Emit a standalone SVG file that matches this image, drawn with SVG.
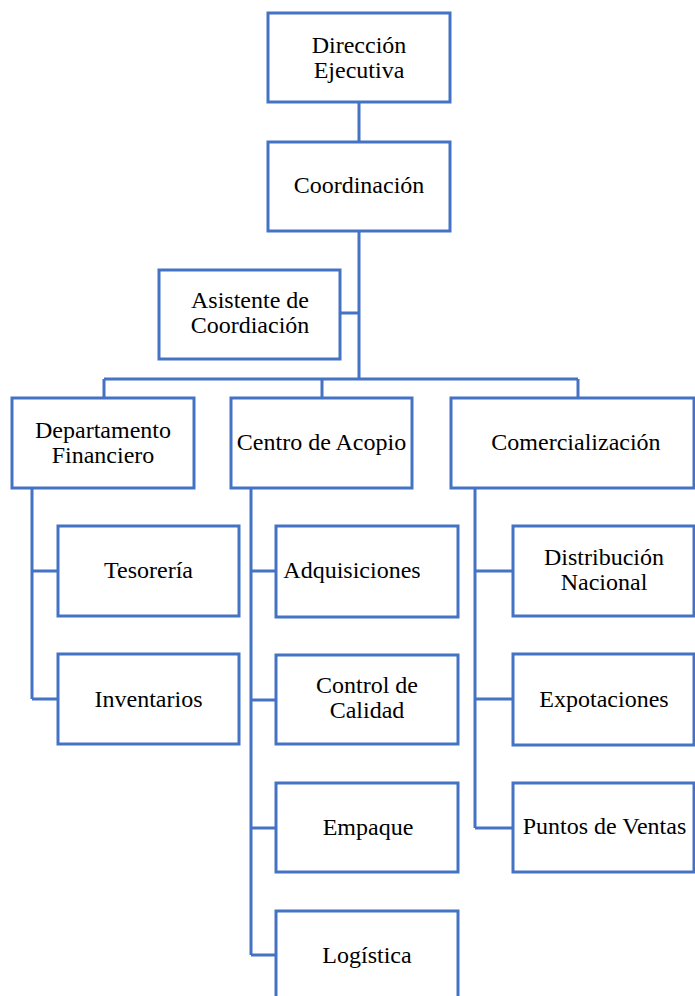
<svg xmlns="http://www.w3.org/2000/svg" width="695" height="996" viewBox="0 0 695 996">
<style>
.box{fill:#fff;stroke:#4472C4;stroke-width:3}
.ln{fill:none;stroke:#4472C4;stroke-width:3}
</style>
<rect width="695" height="996" fill="#fff"/>
<g id="connectors">
<path class="ln" d="M359,102V142M359,231V379M340,313H359M104,379H578M104,379V398M322,379V398M578,379V398"/>
<path class="ln" d="M32,487V699M32,571H58M32,699H58"/>
<path class="ln" d="M251,487V955M251,571H276M251,700H276M251,828H276M251,955H276"/>
<path class="ln" d="M475,487V828M475,571H513M475,699H513M475,828H513"/>
</g>
<g id="direccion"><rect class="box" x="268" y="13" width="182" height="89"/><text x="359" y="53" font-family="Liberation Serif" font-size="24" text-anchor="middle">Dirección</text><text x="359" y="78" font-family="Liberation Serif" font-size="24" text-anchor="middle">Ejecutiva</text></g>
<g id="coordinacion"><rect class="box" x="268" y="142" width="182" height="89"/><text x="359" y="193" font-family="Liberation Serif" font-size="24" text-anchor="middle">Coordinación</text></g>
<g id="asistente"><rect class="box" x="159" y="270" width="181" height="89"/><text x="250" y="308" font-family="Liberation Serif" font-size="24" text-anchor="middle">Asistente de</text><text x="250" y="333" font-family="Liberation Serif" font-size="24" text-anchor="middle">Coordiación</text></g>
<g id="financiero"><rect class="box" x="12" y="398" width="182" height="90"/><text x="103" y="438" font-family="Liberation Serif" font-size="24" text-anchor="middle">Departamento</text><text x="103" y="463" font-family="Liberation Serif" font-size="24" text-anchor="middle">Financiero</text></g>
<g id="acopio"><rect class="box" x="231" y="398" width="181" height="90"/><text x="321.5" y="450" font-family="Liberation Serif" font-size="24" text-anchor="middle">Centro de Acopio</text></g>
<g id="comercializacion"><rect class="box" x="451" y="398" width="243" height="90"/><text x="576" y="450" font-family="Liberation Serif" font-size="24" text-anchor="middle">Comercialización</text></g>
<g id="tesoreria"><rect class="box" x="58" y="526" width="181" height="90"/><text x="148.5" y="578" font-family="Liberation Serif" font-size="24" text-anchor="middle">Tesorería</text></g>
<g id="inventarios"><rect class="box" x="58" y="654" width="181" height="90"/><text x="148.5" y="707" font-family="Liberation Serif" font-size="24" text-anchor="middle">Inventarios</text></g>
<g id="adquisiciones"><rect class="box" x="276" y="526" width="182" height="91"/><text x="352" y="578" font-family="Liberation Serif" font-size="24" text-anchor="middle">Adquisiciones</text></g>
<g id="calidad"><rect class="box" x="276" y="655" width="182" height="89"/><text x="367" y="693" font-family="Liberation Serif" font-size="24" text-anchor="middle">Control de</text><text x="367" y="718" font-family="Liberation Serif" font-size="24" text-anchor="middle">Calidad</text></g>
<g id="empaque"><rect class="box" x="276" y="783" width="182" height="89"/><text x="368" y="835" font-family="Liberation Serif" font-size="24" text-anchor="middle">Empaque</text></g>
<g id="logistica"><rect class="box" x="276" y="911" width="182" height="100"/><text x="367" y="963" font-family="Liberation Serif" font-size="24" text-anchor="middle">Logística</text></g>
<g id="distribucion"><rect class="box" x="513" y="526" width="181" height="90"/><text x="604" y="565" font-family="Liberation Serif" font-size="24" text-anchor="middle">Distribución</text><text x="604" y="590" font-family="Liberation Serif" font-size="24" text-anchor="middle">Nacional</text></g>
<g id="exportaciones"><rect class="box" x="513" y="654" width="181" height="91"/><text x="604" y="707" font-family="Liberation Serif" font-size="24" text-anchor="middle">Expotaciones</text></g>
<g id="puntos"><rect class="box" x="513" y="783" width="181" height="89"/><text x="604.5" y="834" font-family="Liberation Serif" font-size="24" text-anchor="middle">Puntos de Ventas</text></g>
</svg>
